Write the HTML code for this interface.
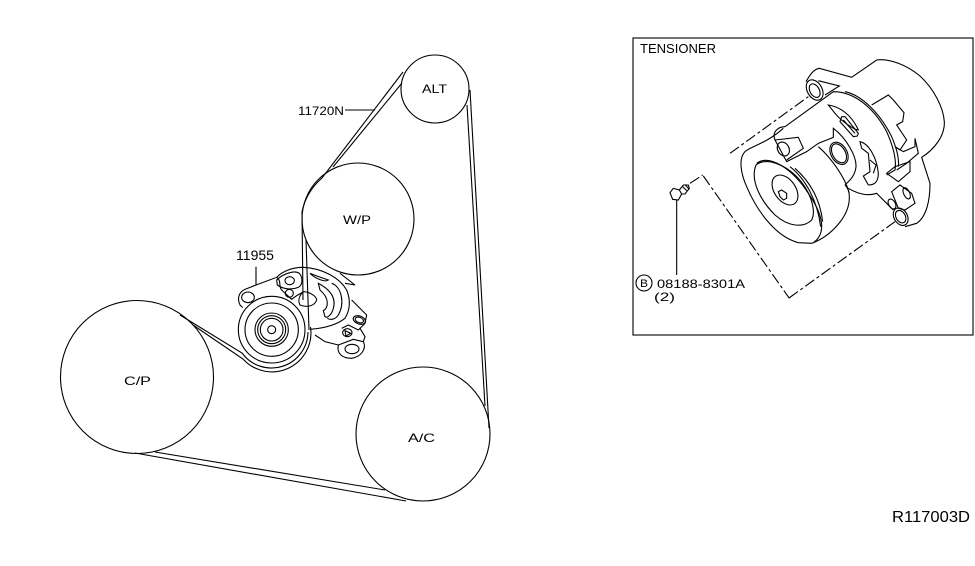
<!DOCTYPE html>
<html><head><meta charset="utf-8"><style>
html,body{margin:0;padding:0;background:#fff;width:975px;height:566px;overflow:hidden}
svg{display:block}
path,circle,ellipse,line,rect{fill:none;stroke:#000;stroke-width:1.1}
.z path,.z ellipse,.z circle{vector-effect:non-scaling-stroke}
text{font-family:"Liberation Sans",sans-serif;fill:#000;stroke:none}
</style></head><body>
<svg width="975" height="566" viewBox="0 0 975 566" xmlns="http://www.w3.org/2000/svg">
<!-- pulleys -->
<circle cx="435" cy="89" r="34"/>
<circle cx="358" cy="219" r="56"/>
<circle cx="137" cy="377" r="76.500"/>
<circle cx="423" cy="434" r="67"/>
<!-- belts -->
<path d="M403,72 L322,178 Q306,192 302,212 L303,300"/>
<path d="M402,83 L333,167"/>
<path d="M306,240 L309,330"/>
<path d="M470,90 L489,428"/>
<path d="M467,105 L485,406"/>
<path d="M135,453 L406,501"/>
<path d="M155,452 L385,490"/>
<path d="M180,315 L193,323 L242,353 A36.500,36.500 0 0 0 308,332"/>
<path d="M193,325 L243,359 A39,39 0 0 0 310.500,327"/>
<!-- labels -->
<path d="M345,110 L375,110"/>
<text x="298" y="115" font-size="12" textLength="46" lengthAdjust="spacingAndGlyphs">11720N</text>
<text x="236" y="260" font-size="14" textLength="38" lengthAdjust="spacingAndGlyphs">11955</text>
<text x="422" y="93" font-size="12" textLength="25" lengthAdjust="spacingAndGlyphs">ALT</text>
<text x="343" y="224" font-size="12" textLength="28" lengthAdjust="spacingAndGlyphs">W/P</text>
<text x="124" y="385" font-size="12" textLength="27" lengthAdjust="spacingAndGlyphs">C/P</text>
<text x="408" y="442" font-size="12" textLength="27" lengthAdjust="spacingAndGlyphs">A/C</text>
<text x="892" y="522" font-size="16" textLength="78" lengthAdjust="spacingAndGlyphs">R117003D</text>
<!-- tensioner small (zoom1 coords) -->
<g class="z" transform="translate(220,240) scale(.33333)">
<path d="M108,80 L108,135 L75,148 C58,155 50,175 60,195 L68,203"/>
<ellipse cx="84" cy="172" rx="19" ry="16"/>
<path d="M108,135 L170,112 C185,95 215,82 250,82 C310,85 360,115 380,150 C392,180 390,210 375,235 C350,255 310,265 270,268"/>
<path d="M170,112 C185,120 175,140 185,150 L215,178 C230,165 245,160 250,155"/>
<path d="M170,120 C190,100 225,90 238,100 C250,115 248,135 235,142 C215,150 190,148 172,135Z"/>
<ellipse cx="209" cy="122" rx="14" ry="12"/>
<ellipse cx="208" cy="160" rx="12" ry="12"/>
<path d="M250,155 C270,155 290,170 290,180 C285,195 265,205 240,195 C232,180 240,165 250,155"/>
<path d="M270,100 C290,108 310,115 325,120 C315,128 285,115 270,100Z"/>
<path d="M295,130 C325,145 350,170 340,205 C335,225 322,235 315,230 L310,212 C325,205 330,175 300,150Z"/>
<path d="M335,130 C365,140 375,190 355,225 C345,240 330,240 322,235"/>
<path d="M360,100 L405,135 L375,130"/>
<path d="M395,180 L440,225 L435,250 L415,270 L395,260 L385,255 L365,265"/>
<ellipse cx="418" cy="240" rx="19" ry="12" transform="rotate(20 418 240)"/>
<ellipse cx="418" cy="240" rx="13" ry="8" transform="rotate(20 418 240)"/>
<ellipse cx="382" cy="278" rx="14" ry="12"/>
<path d="M375,272 L392,280 L378,288Z"/>
<path d="M285,285 L315,305 L355,315 C350,340 365,355 395,355 C425,350 440,325 430,305 L435,290 L420,265"/>
<path d="M355,315 L400,298 L430,305"/>
<ellipse cx="396" cy="327" rx="21" ry="14"/>
<circle cx="155" cy="269" r="100"/>
<circle cx="155" cy="269" r="80"/>
<circle cx="155" cy="269" r="50"/>
<circle cx="155" cy="269" r="42"/>
<circle cx="155" cy="269" r="34"/>
<circle cx="155" cy="269" r="12"/>
</g>
<!-- box -->
<rect x="633" y="38" width="340" height="297"/>
<text x="640" y="53" font-size="13" textLength="76" lengthAdjust="spacingAndGlyphs">TENSIONER</text>
<circle cx="644" cy="283" r="8"/>
<text x="640" y="287" font-size="11" textLength="8" lengthAdjust="spacingAndGlyphs">B</text>
<text x="657" y="288" font-size="12" textLength="88" lengthAdjust="spacingAndGlyphs">08188-8301A</text>
<text x="654" y="301" font-size="12" textLength="21" lengthAdjust="spacingAndGlyphs">(2)</text>
<g class="z" transform="translate(630,170) scale(.33333)">
<path d="M140,90 L140,315"/>
<path d="M120,68 L130,55 L148,60 L155,72 L145,90 L128,88Z"/>
<path d="M148,60 L160,45 L175,45 L178,55 L165,72 L155,72"/>
<path d="M158,50 L170,62 M165,44 L176,56" stroke-width="3"/>
<path d="M180,40 L218,15" stroke-dasharray="11 3 3 3"/>
<path d="M220,18 L478,385" stroke-dasharray="11 3 3 3"/>
</g>
<g class="z" transform="translate(730,50) scale(.33333)">
<path d="M0,310 L235,140" stroke-dasharray="11 3 3 3"/>
<path d="M177,744 L495,515" stroke-dasharray="11 3 3 3"/>
<!-- housing -->
<path d="M228,95 C240,75 250,58 268,55 L365,82 L440,30 C480,25 530,45 570,78 C610,115 640,170 643,215 C645,260 610,300 575,322 L600,400 C600,450 590,500 560,520 L525,530"/>
<path d="M265,92 L328,108 L285,135"/>
<ellipse cx="254" cy="120" rx="22" ry="33" transform="rotate(-30 254 120)"/>
<ellipse cx="254" cy="122" rx="14" ry="22" transform="rotate(-30 254 122)"/>
<!-- arm -->
<path d="M165,230 L310,125 C370,125 430,170 470,245 C490,290 500,330 495,360 L470,375"/>
<path d="M345,125 C395,135 450,190 485,260 C500,295 508,325 505,350"/>
<path d="M425,165 L475,135 L490,150 L522,188 L518,215 L500,225 L530,270 L510,300 L495,290"/>
<path d="M495,290 L520,305 L555,290 L555,265 L565,310 L530,340 L500,360"/>
<path d="M470,370 L495,350 L540,335 L540,365 L505,395 Z"/>
<path d="M165,230 C145,230 125,245 135,270 L170,335 L230,305 L265,280 L310,262 L310,235 C350,265 380,320 378,350 C375,380 355,395 345,405"/>
<path d="M295,165 C330,170 365,195 385,240 C375,240 335,215 315,190Z"/>
<path d="M335,200 L345,200 L385,250 L382,258 L370,260 L330,215Z"/>
<path d="M340,210 L375,250"/>
<path d="M390,275 C415,280 440,320 445,370 C445,395 435,405 415,405 L400,378 L420,365 L415,310 L395,295Z"/>
<path d="M420,330 L438,345 L430,370"/>
<path d="M135,270 L205,262 L220,295 L170,330"/>
<ellipse cx="160" cy="297" rx="17" ry="22" transform="rotate(-30 160 297)"/>
<ellipse cx="327" cy="310" rx="24" ry="36" transform="rotate(-30 327 310)"/>
<ellipse cx="327" cy="310" rx="19" ry="31" transform="rotate(-30 327 310)"/>
<path d="M265,290 C300,320 345,380 358,430"/>
<path d="M355,415 C380,430 410,440 440,430 L490,480"/>
<!-- roller -->
<path d="M160,235 C110,280 60,290 45,305 C25,325 32,370 50,410 C80,480 135,560 205,578 L245,580 C300,560 360,500 358,440 C358,425 355,415 345,405"/>
<path d="M80,340 C120,310 190,360 235,430 C280,495 290,550 250,578"/>
<path d="M180,350 C225,385 262,450 272,530"/>
<path d="M195,355 C240,395 270,445 278,515"/>
<path d="M78,345 C60,390 90,450 135,495 C175,530 220,535 245,510 C260,480 240,420 200,380 C165,345 110,320 78,345Z"/>
<ellipse cx="165" cy="420" rx="32" ry="50" transform="rotate(-35 165 420)"/>
<path d="M145,425 L155,420 L170,430 L170,445 L160,450 L150,440Z"/>
<!-- lower bracket -->
<path d="M485,425 L510,405 L545,430 L555,460 L525,480 L505,475 Z"/>
<ellipse cx="530" cy="430" rx="9" ry="18" transform="rotate(-25 530 430)"/>
<ellipse cx="486" cy="462" rx="10" ry="16" transform="rotate(-30 486 462)"/>
<ellipse cx="512" cy="500" rx="20" ry="28" transform="rotate(-30 512 500)"/>
<ellipse cx="512" cy="500" rx="14" ry="20" transform="rotate(-30 512 500)"/>
</g>
</svg>
</body></html>
